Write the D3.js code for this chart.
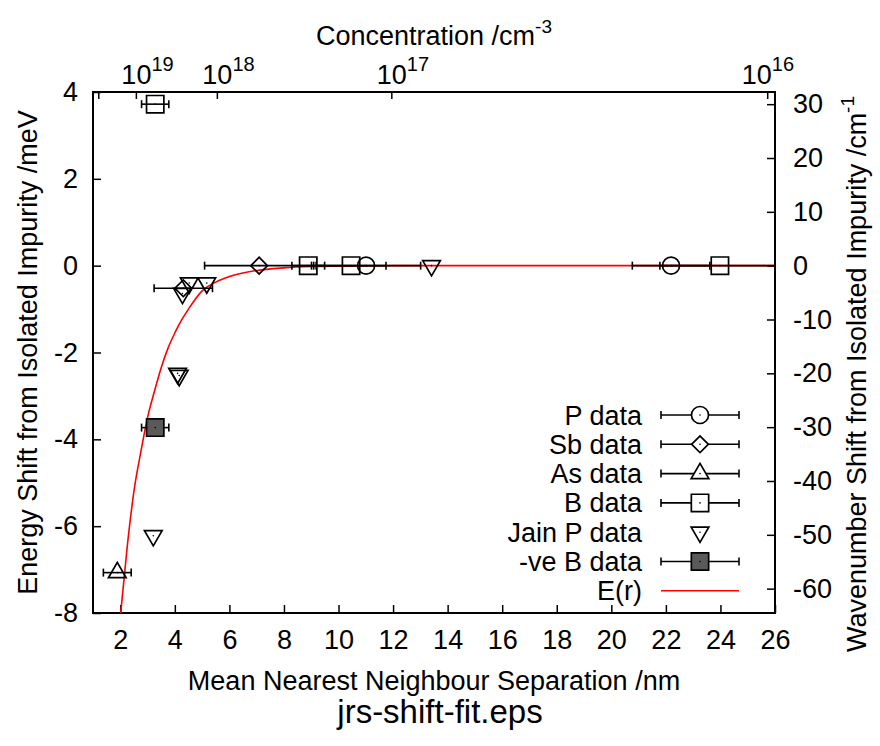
<!DOCTYPE html>
<html>
<head>
<meta charset="utf-8">
<script src="https://cdn.jsdelivr.net/npm/d3@7"></script>
<style>
  body { margin: 0; background: #fff; }
  text { font-family: "Liberation Sans", Arial, sans-serif; fill: #000; }
</style>
</head>
<body>
<svg id="chart" width="880" height="746"></svg>
<script>
// ---- data ----
var xTicks = [2, 4, 6, 8, 10, 12, 14, 16, 18, 20, 22, 24, 26];
var yTicks = [-8, -6, -4, -2, 0, 2, 4];
var y2Ticks = [-60, -50, -40, -30, -20, -10, 0, 10, 20, 30];
var concTicks = [1e20, 1e19, 1e18, 1e17, 1e16];
var concExp = ["", "19", "18", "17", "16"];

// P data
var pR = [11.01, 22.19];
var pE = [0, 0];
var pErr = [2.0, 1.42];
// Sb data
var sbR = [7.09, 4.31];
var sbE = [0, -0.52];
var sbErr = [2.0, 1.07];
// As data
var asR = [1.89];
var asE = [-7.07];
var asErr = [0.51];
// B data
var bR = [8.89, 10.46, 23.98, 3.28];
var bE = [0, 0, 0, 3.72];
var bErr = [0.6, 1.28, 2.2, 0.5];
// Jain P data (no error bars)
var jainR = [13.41, 4.53, 5.17, 4.28, 4.10, 4.16, 3.21];
var jainE = [0, -0.40, -0.40, -0.64, -2.48, -2.53, -6.22];
// -ve B data
var negBR = [3.28];
var negBE = [-3.73];
var negBErr = [0.5];
// E(r) curve, points
var fitR = [2.0, 2.25, 2.5, 2.75, 3.0, 3.25, 3.5, 3.75, 4.0, 4.25, 4.5, 5.0, 5.5, 6.0, 7.0, 8.0, 9.0, 10.0, 12.0, 26.0];
var fitE = [-8.1, -6.5, -5.2, -4.3, -3.5, -2.9, -2.35, -1.9, -1.55, -1.25, -1.0, -0.58, -0.38, -0.25, -0.11, -0.05, -0.02, -0.01, 0, 0];

var meVtoCm = 8.0655;

// ---- layout ----
var plotL = 93, plotR = 775, plotT = 92, plotB = 613;
var fs = 27;

var svg = d3.select("#chart");

var x = d3.scaleLinear().domain([1, 26]).range([plotL, plotR]);
var y = d3.scaleLinear().domain([-8, 4]).range([plotB, plotT]);
var y2 = d3.scaleLinear().domain([-8 * meVtoCm, 4 * meVtoCm]).range([plotB, plotT]);
// separation r (nm) = 5.54e6 * n^(-1/3), n in cm^-3
var conc = d3.scalePow().exponent(-1 / 3)
   .domain([Math.pow(5.54e6 / 1, 3), Math.pow(5.54e6 / 26, 3)])
   .range([plotL, plotR]);

var plain = function (d) { return String(d); };

function styleAxis(g) {
   g.select(".domain").remove();
   g.selectAll(".tick line").attr("stroke", "#000").attr("stroke-width", 1.5);
   g.selectAll(".tick text").style("font-size", fs + "px").attr("fill", "#000");
}

// bottom axis
svg.append("g")
   .attr("transform", "translate(0," + plotB + ")")
   .call(d3.axisBottom(x).tickValues(xTicks).tickSize(-8).tickPadding(17).tickFormat(plain))
   .call(styleAxis);

// left axis
svg.append("g")
   .attr("transform", "translate(" + plotL + ",0)")
   .call(d3.axisLeft(y).tickValues(yTicks).tickSize(-8).tickPadding(15).tickFormat(plain))
   .call(styleAxis);

// right axis
svg.append("g")
   .attr("transform", "translate(" + plotR + ",0)")
   .call(d3.axisRight(y2).tickValues(y2Ticks).tickSize(-8).tickPadding(18).tickFormat(plain))
   .call(styleAxis);

// top axis (concentration)
var topAxis = svg.append("g")
   .attr("transform", "translate(0," + plotT + ")")
   .call(d3.axisTop(conc).tickValues(concTicks).tickSize(-7).tickFormat(""))
   .call(styleAxis);
topAxis.selectAll(".tick text").remove();
topAxis.selectAll(".tick").each(function (d, i) {
   if (!concExp[i]) return;
   var t = d3.select(this).append("text")
      .attr("x", i === 4 ? -26 : -15).attr("y", -8)
      .attr("text-anchor", "start")
      .style("font-size", fs + "px");
   t.append("tspan").text("10");
   t.append("tspan").attr("dy", -13).style("font-size", "20px").text(concExp[i]);
});

// frame
svg.append("rect")
   .attr("x", plotL).attr("y", plotT)
   .attr("width", plotR - plotL).attr("height", plotB - plotT)
   .attr("fill", "none").attr("stroke", "#000").attr("stroke-width", 2);

// axis titles
svg.append("text")
   .attr("x", (plotL + plotR) / 2).attr("y", 690)
   .attr("text-anchor", "middle").style("font-size", fs + "px")
   .text("Mean Nearest Neighbour Separation /nm");

var tt = svg.append("text")
   .attr("x", 434).attr("y", 45)
   .attr("text-anchor", "middle").style("font-size", fs + "px");
tt.append("tspan").text("Concentration /cm");
tt.append("tspan").attr("dy", -12).style("font-size", "19px").text("-3");

svg.append("text")
   .attr("transform", "translate(37," + (plotT + plotB) / 2 + ") rotate(-90)")
   .attr("text-anchor", "middle").style("font-size", fs + "px")
   .text("Energy Shift from Isolated Impurity /meV");

var yt2 = svg.append("text")
   .attr("transform", "translate(866,374) rotate(-90)")
   .attr("text-anchor", "middle").style("font-size", fs + "px");
yt2.append("tspan").text("Wavenumber Shift from Isolated Impurity /cm");
yt2.append("tspan").attr("dy", -12).style("font-size", "19px").text("-1");

svg.append("text")
   .attr("x", 440).attr("y", 723)
   .attr("text-anchor", "middle").style("font-size", "33px")
   .text("jrs-shift-fit.eps");

// ---- plot contents ----
svg.append("clipPath").attr("id", "clip")
   .append("rect").attr("x", plotL).attr("y", plotT)
   .attr("width", plotR - plotL).attr("height", plotB - plotT);
var plot = svg.append("g").attr("clip-path", "url(#clip)");

function zip(rs, es, errs) {
   return rs.map(function (r, i) { return { r: r, e: es[i], err: errs ? errs[i] : 0 }; });
}

var symbols = {
   circle: { type: d3.symbolCircle, size: 227, rot: 0, fill: "none" },
   diamond: { type: d3.symbolSquare, size: 140, rot: 45, fill: "none" },
   up: { type: d3.symbolTriangle, size: 135, rot: 0, fill: "none" },
   square: { type: d3.symbolSquare, size: 300, rot: 0, fill: "none" },
   down: { type: d3.symbolTriangle, size: 135, rot: 180, fill: "none" },
   filled: { type: d3.symbolSquare, size: 300, rot: 0, fill: "#5a5a5a" }
};

function drawErr(g, data) {
   g.selectAll(null).data(data).enter().append("line")
      .attr("x1", function (d) { return x(d.r - d.err); })
      .attr("x2", function (d) { return x(d.r + d.err); })
      .attr("y1", function (d) { return y(d.e); })
      .attr("y2", function (d) { return y(d.e); })
      .attr("stroke", "#000").attr("stroke-width", 1.6);
   [-1, 1].forEach(function (s) {
      g.selectAll(null).data(data).enter().append("line")
         .attr("x1", function (d) { return x(d.r + s * d.err); })
         .attr("x2", function (d) { return x(d.r + s * d.err); })
         .attr("y1", function (d) { return y(d.e) - 4; })
         .attr("y2", function (d) { return y(d.e) + 4; })
         .attr("stroke", "#000").attr("stroke-width", 1.6);
   });
}

function drawPts(g, data, kind) {
   var s = symbols[kind];
   g.selectAll(null).data(data).enter().append("path")
      .attr("d", d3.symbol().type(s.type).size(s.size))
      .attr("transform", function (d) {
         return "translate(" + x(d.r) + "," + y(d.e) + ") rotate(" + s.rot + ")";
      })
      .attr("fill", s.fill).attr("stroke", "#000").attr("stroke-width", 1.7);
   g.selectAll(null).data(data).enter().append("circle")
      .attr("cx", function (d) { return x(d.r); })
      .attr("cy", function (d) { return y(d.e); })
      .attr("r", 0.8).attr("fill", "#000");
}

// fit curve
var fit = fitR.map(function (r, i) { return [r, fitE[i]]; });
plot.append("path")
   .datum(fit)
   .attr("d", d3.line().x(function (d) { return x(d[0]); }).y(function (d) { return y(d[1]); }).curve(d3.curveMonotoneX))
   .attr("fill", "none").attr("stroke", "#ff0000").attr("stroke-width", 1.6);

var series = [
   { data: zip(pR, pE, pErr), kind: "circle", err: true },
   { data: zip(sbR, sbE, sbErr), kind: "diamond", err: true },
   { data: zip(asR, asE, asErr), kind: "up", err: true },
   { data: zip(bR, bE, bErr), kind: "square", err: true },
   { data: zip(jainR, jainE), kind: "down", err: false },
   { data: zip(negBR, negBE, negBErr), kind: "filled", err: true }
];
series.forEach(function (s) {
   var g = plot.append("g");
   if (s.err) drawErr(g, s.data);
   drawPts(g, s.data, s.kind);
});

// ---- legend ----
var legendLabels = ["P data", "Sb data", "As data", "B data", "Jain P data", "-ve B data", "E(r)"];
var legendKinds = ["circle", "diamond", "up", "square", "down", "filled", "line"];
var legendHasErr = [true, true, true, true, false, true, false];
var legY0 = 415, legDy = 29.3, legTextX = 642, legX1 = 661, legX2 = 739, legMid = 700;

var leg = svg.append("g");
legendLabels.forEach(function (lab, i) {
   var yy = legY0 + i * legDy;
   leg.append("text")
      .attr("x", legTextX).attr("y", yy + 9.5)
      .attr("text-anchor", "end").style("font-size", fs + "px")
      .text(lab);
   var kind = legendKinds[i];
   if (kind === "line") {
      leg.append("line").attr("x1", legX1).attr("x2", legX2)
         .attr("y1", yy).attr("y2", yy)
         .attr("stroke", "#ff0000").attr("stroke-width", 1.6);
      return;
   }
   if (legendHasErr[i]) {
      leg.append("line").attr("x1", legX1).attr("x2", legX2)
         .attr("y1", yy).attr("y2", yy).attr("stroke", "#000").attr("stroke-width", 1.6);
      [legX1, legX2].forEach(function (xx) {
         leg.append("line").attr("x1", xx).attr("x2", xx)
            .attr("y1", yy - 4).attr("y2", yy + 4)
            .attr("stroke", "#000").attr("stroke-width", 1.6);
      });
   }
   var s = symbols[kind];
   leg.append("path")
      .attr("d", d3.symbol().type(s.type).size(s.size))
      .attr("transform", "translate(" + legMid + "," + yy + ") rotate(" + s.rot + ")")
      .attr("fill", s.fill === "none" ? "#fff" : s.fill)
      .attr("stroke", "#000").attr("stroke-width", 1.7);
   leg.append("circle").attr("cx", legMid).attr("cy", yy).attr("r", 0.8).attr("fill", "#000");
});
</script>
</body>
</html>
